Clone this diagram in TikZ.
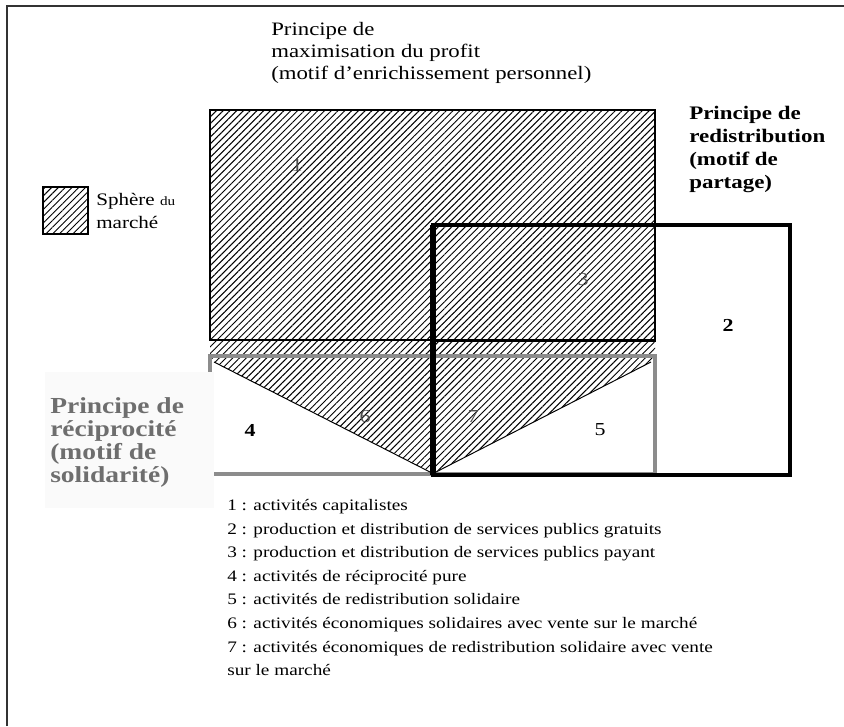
\documentclass[tikz,border=0pt]{standalone}
\usepackage{fontspec}
\setmainfont{Liberation Serif}
\newfontfamily\widefont[FakeStretch=1.2]{Liberation Serif}
\usetikzlibrary{positioning,patterns.meta}

\begin{document}
\begin{tikzpicture}[x=0.025cm, y=-0.025cm,
    hatched/.style={pattern={Lines[angle=45,distance=3.4pt,line width=0.7pt]}},
    num/.style={font=\widefont\fontsize{13}{13}\selectfont},
    faintnum/.style={font=\widefont\fontsize{13}{13}\selectfont, text=black!70},
    label/.style={align=left, anchor=north west, inner sep=0pt}]
	% Define colors
	\definecolor{recipgray}{HTML}{8C8C8C}   % border of reciprocity box
	\definecolor{reciptext}{HTML}{6E6E6E}   % text of reciprocity label

	\useasboundingbox (0,0) rectangle (844,726);

	% Frame of the figure
	\draw[line width=0.8pt, black!80] (7,726) -- (7,6) -- (844,6);

	% Market sphere (hatched area)
	\fill[hatched] (210,110) -- (655,110) -- (655,360) -- (433,473) -- (210,360) -- cycle;
	\draw[line width=1.4pt] (210,110) rectangle (655,340);
	\draw[line width=0.9pt] (433,225) rectangle (655,341);

	% Reciprocity box
	\draw[recipgray, line width=2.6pt] (210,356) rectangle (655,474);
	\draw[line width=0.7pt] (214,362) -- (430,472);
	\draw[line width=0.7pt] (436,472) -- (651,362);

	% Redistribution box
	\draw[line width=2.8pt] (433,225) rectangle (790,475);
	\draw[line width=3.6pt] (433,225) -- (433,475);

	% Numbers of the zones
	\node[faintnum] (n1) at (297,165) {1};
	\node[num] (n2) at (728,325) {\textbf{2}};
	\node[faintnum] (n3) at (583,280) {3};
	\node[num] (n4) at (250,430) {\textbf{4}};
	\node[num] (n5) at (600,430) {5};
	\node[faintnum] (n6) at (365,417) {6};
	\node[faintnum] (n7) at (473,417) {7};

	% Principles
	\node[label, font=\widefont\fontsize{13.5}{15.8}\selectfont] (profit) at (271,22)
		{Principe de\\maximisation du profit\\(motif d’enrichissement personnel)};
	\node[label, font=\widefont\fontsize{13.6}{16.4}\selectfont\bfseries] (redis) at (689,106)
		{Principe de\\redistribution\\(motif de\\partage)};
	\fill[black!2] (45,372) rectangle (214,508);
	\node[label, text=reciptext, font=\widefont\fontsize{16.3}{16.4}\selectfont\bfseries] (recip) at (50,397)
		{Principe de\\réciprocité\\(motif de\\solidarité)};

	% Legend
	\draw[hatched] (43,187) rectangle (88,234);
	\draw[line width=0.8pt] (43,187) rectangle (88,234);
	\node[label, font=\widefont\fontsize{12.5}{16.5}\selectfont] (sphere) at (96,193)
		{Sphère {\fontsize{9}{9}\selectfont du}\\marché};

	% Key of the zones
	\node[label, font=\widefont\fontsize{11.4}{16.8}\selectfont] (key) at (227,499)
		{1 : activités capitalistes\\
		 2 : production et distribution de services publics gratuits\\
		 3 : production et distribution de services publics payant\\
		 4 : activités de réciprocité pure\\
		 5 : activités de redistribution solidaire\\
		 6 : activités économiques solidaires avec vente sur le marché\\
		 7 : activités économiques de redistribution solidaire avec vente\\
		 sur le marché};
\end{tikzpicture}
\end{document}
